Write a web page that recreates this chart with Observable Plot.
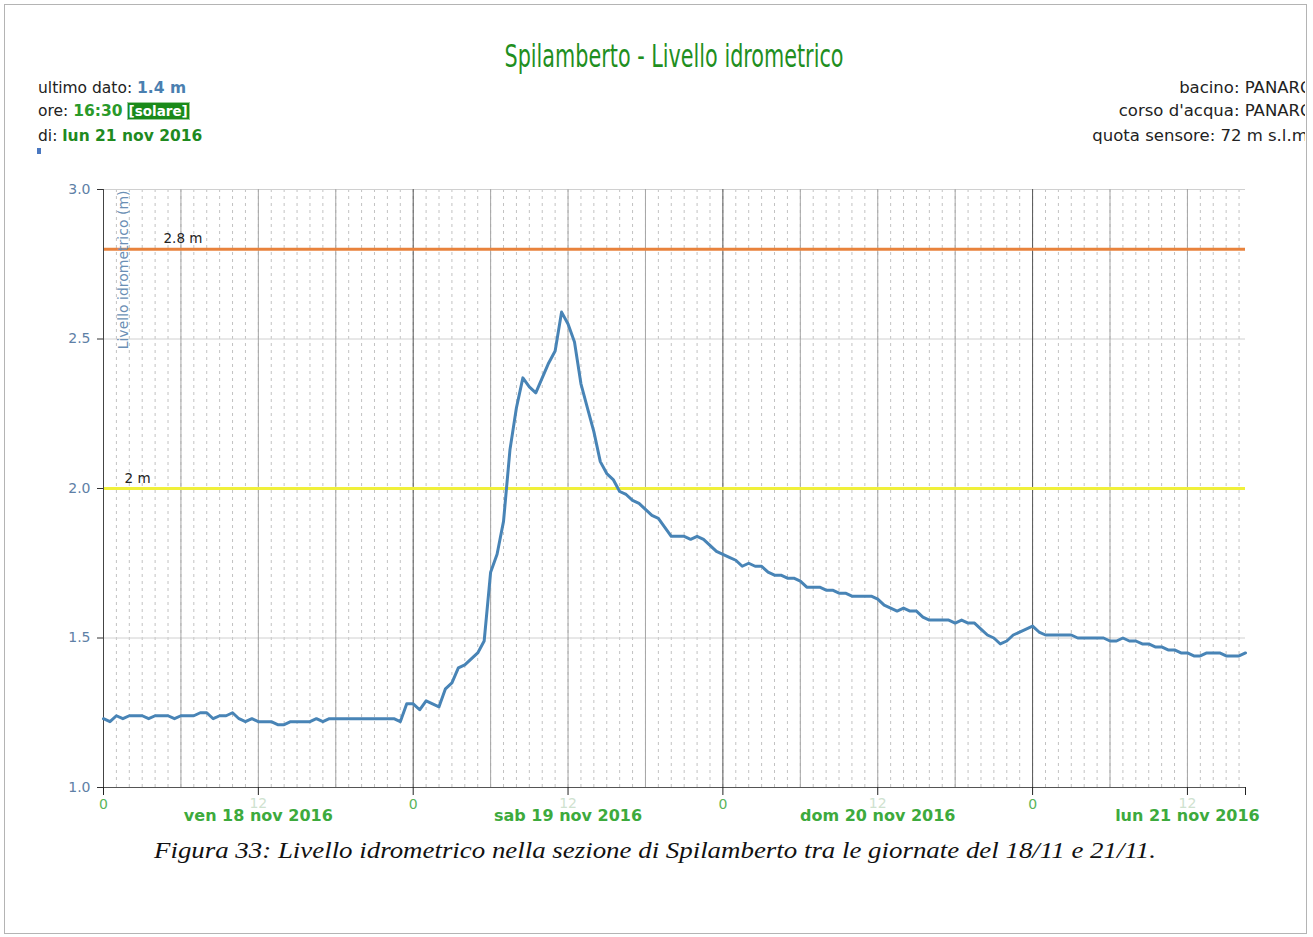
<!DOCTYPE html>
<html>
<head>
<meta charset="utf-8">
<script src="https://cdn.jsdelivr.net/npm/d3@7"></script>
<script src="https://cdn.jsdelivr.net/npm/@observablehq/plot@0.6"></script>
<style>
  html, body { margin: 0; padding: 0; background: #fff; }
  #frame { position: relative; width: 1313px; height: 937px; overflow: hidden; font-family: "DejaVu Sans", "Liberation Sans", sans-serif; }
  #box { position: absolute; left: 4px; top: 4px; width: 1301px; height: 928px; border: 1px solid #b4b4b4; }
  #title { position: absolute; left: 673.5px; top: 40px; font-family: "Liberation Sans Narrow", "DejaVu Sans Condensed", "Liberation Sans", sans-serif; font-size: 32px; line-height: 32px; color: #1f8f1f; white-space: nowrap; transform-origin: center; }
  .hl { position: absolute; left: 38px; font-size: 15.5px; line-height: 18px; color: #222; white-space: nowrap; }
  .hl b.blue { color: #4a7fb0; }
  .hl b.green { color: #2a9a2a; }
  .hl b.dgreen { color: #1f8a1f; }
  .sol { display: inline-block; background: #1a8a1a; color: #fff; font-weight: bold; font-size: 13.5px; line-height: 16px; padding: 0 1px; margin-left: 4px; border: 1px solid #9c9; }
  #hright { position: absolute; left: 880px; top: 70px; width: 425px; height: 80px; overflow: hidden; }
  .hr { position: absolute; right: -8px; font-size: 16.5px; line-height: 18px; color: #222; white-space: nowrap; }
  #mark { position: absolute; left: 37px; top: 148px; width: 4px; height: 6px; background: #4a78c0; }
  #chart { position: absolute; left: 0; top: 170px; }
  #caption { position: absolute; left: 655px; top: 836px; font-family: "Liberation Serif", "DejaVu Serif", serif; font-style: italic; font-size: 24px; line-height: 28px; color: #111; white-space: nowrap; transform-origin: center; }
</style>
</head>
<body>
<div id="frame">
  <div id="box"></div>
  <div id="title">Spilamberto - Livello idrometrico</div>
  <div class="hl" style="top:79px">ultimo dato: <b class="blue">1.4 m</b></div>
  <div class="hl" style="top:102px">ore: <b class="green">16:30</b><span class="sol">[solare]</span></div>
  <div class="hl" style="top:127px">di: <b class="dgreen">lun 21 nov 2016</b></div>
  <div id="mark"></div>
  <div id="hright">
    <div class="hr" style="top:9px">bacino: PANARO</div>
    <div class="hr" style="top:32px">corso d'acqua: PANARO</div>
    <div class="hr" style="top:57px">quota sensore: 72 m s.l.m.</div>
  </div>
  <div id="chart"></div>
  <div id="caption">Figura 33: Livello idrometrico nella sezione di Spilamberto tra le giornate del 18/11 e 21/11.</div>
</div>
<script>
// ---- data (half-hourly readings, metres) ----
const startTime = "2016-11-18T00:00:00Z";
const endTime = "2016-11-21T16:30:00Z";
const stepMinutes = 30;
const levels = [
  1.23,1.22,1.24,1.23,1.24,1.24,1.24,1.23,1.24,1.24,
  1.24,1.23,1.24,1.24,1.24,1.25,1.25,1.23,1.24,1.24,
  1.25,1.23,1.22,1.23,1.22,1.22,1.22,1.21,1.21,1.22,
  1.22,1.22,1.22,1.23,1.22,1.23,1.23,1.23,1.23,1.23,
  1.23,1.23,1.23,1.23,1.23,1.23,1.22,
  1.28,1.28,1.26,1.29,1.28,1.27,1.33,1.35,1.40,1.41,
  1.43,1.45,1.49,1.72,1.78,1.89,2.13,2.27,2.37,2.34,
  2.32,2.37,2.42,2.46,2.59,2.55,2.49,2.35,2.27,2.19,
  2.09,2.05,2.03,1.99,1.98,1.96,1.95,1.93,1.91,1.90,
  1.87,1.84,1.84,1.84,1.83,1.84,1.83,1.81,1.79,1.78,
  1.77,1.76,1.74,1.75,1.74,1.74,1.72,1.71,1.71,1.70,
  1.70,1.69,1.67,1.67,1.67,1.66,1.66,1.65,1.65,1.64,
  1.64,1.64,1.64,1.63,1.61,1.60,1.59,1.60,1.59,1.59,
  1.57,1.56,1.56,1.56,1.56,1.55,1.56,1.55,1.55,1.53,
  1.51,1.50,1.48,1.49,1.51,1.52,1.53,1.54,1.52,1.51,
  1.51,1.51,1.51,1.51,1.50,1.50,1.50,1.50,1.50,1.49,
  1.49,1.50,1.49,1.49,1.48,1.48,1.47,1.47,1.46,1.46,
  1.45,1.45,1.44,1.44,1.45,1.45,1.45,1.44,1.44,1.44,1.45
];
const dayLabels = ["ven 18 nov 2016", "sab 19 nov 2016", "dom 20 nov 2016", "lun 21 nov 2016"];
const dayNoons = ["2016-11-18T12:00:00Z", "2016-11-19T12:00:00Z", "2016-11-20T12:00:00Z", "2016-11-21T12:00:00Z"];
const midnightTickLabel = "0";
const noonTickLabel = "12";
const yTicks = [1.0, 1.5, 2.0, 2.5, 3.0];
const thresholdValues = [2.8, 2.0];
const thresholdLabels = ["2.8 m", "2 m"];
const yAxisLabel = "Livello idrometrico (m)";

// ---- build table ----
const t0 = new Date(startTime), t1 = new Date(endTime);
const series = levels.map((v, i) => ({t: new Date(+t0 + i * stepMinutes * 60000), v}));
const hours = d3.utcHour.range(t0, t1);
const midnights = d3.utcDay.range(t0, t1);
const sixHours = d3.utcHour.every(6).range(t0, t1).filter(d => d.getUTCHours() !== 0);
const noons = dayNoons.map(d => new Date(d));
const tickDates = d3.utcHour.every(12).range(t0, t1).concat([t1]);
const dayTable = dayLabels.map((label, i) => ({t: noons[i], label}));

const chart = Plot.plot({
  width: 1313,
  height: 680,
  marginTop: 19,
  marginBottom: 63,
  marginLeft: 103,
  marginRight: 68,
  x: {type: "utc", domain: [t0, t1]},
  y: {domain: [1, 3]},
  style: {fontFamily: "DejaVu Sans, Liberation Sans, sans-serif", background: "transparent", overflow: "visible"},
  marks: [
    Plot.ruleX(hours.slice(1), {stroke: "#c2c2c2", strokeDasharray: "3,4"}),
    Plot.ruleY(yTicks.slice(1), {stroke: "#d0d0d0"}),
    Plot.ruleX(sixHours, {stroke: "#a6a6a6"}),
    Plot.ruleX(midnights.slice(1), {stroke: "#555"}),
    Plot.ruleY([thresholdValues[0]], {stroke: "#e8823c", strokeWidth: 3}),
    Plot.ruleY([thresholdValues[1]], {stroke: "#f0f03a", strokeWidth: 3}),
    Plot.text([thresholdLabels[0]], {y: () => thresholdValues[0], text: d => d, frameAnchor: "left", textAnchor: "start", dx: 60, dy: -11, fontSize: 13.5, fill: "#222"}),
    Plot.text([thresholdLabels[1]], {y: () => thresholdValues[1], text: d => d, frameAnchor: "left", textAnchor: "start", dx: 21, dy: -10, fontSize: 13.5, fill: "#222"}),
    Plot.ruleX([t0], {stroke: "#444"}),
    Plot.ruleY([1], {stroke: "#555"}),
    Plot.line(series, {x: "t", y: "v", stroke: "#4884b6", strokeWidth: 3, strokeLinejoin: "round"}),
    Plot.text([yAxisLabel], {frameAnchor: "top-left", rotate: -90, textAnchor: "end", dx: 15, dy: 1, fontSize: 14, fill: "#6b8fb5"}),
    Plot.axisY(yTicks, {tickFormat: () => "", tickSize: 6, stroke: "#333", label: null}),
    Plot.text(yTicks, {y: d => d, text: d => d.toFixed(1), frameAnchor: "left", textAnchor: "end", dx: -13, fontSize: 14, fill: "#5e80a6"}),
    Plot.axisX(tickDates, {tickSize: 8, tickFormat: () => "", stroke: "#222", label: null}),
    Plot.text(midnights, {x: d => d, text: () => midnightTickLabel, frameAnchor: "bottom", dy: 21, fontSize: 14, fill: "#5ab55a"}),
    Plot.text(noons, {x: d => d, text: () => noonTickLabel, frameAnchor: "bottom", dy: 20, fontSize: 14, fill: "#cfe2cf"}),
    Plot.text(dayTable, {x: "t", text: "label", frameAnchor: "bottom", dy: 33, fontSize: 16, fontWeight: "bold", fill: "#3daa3d"})
  ]
});
document.getElementById("chart").appendChild(chart);

// fit the condensed title and the caption to their widths in the original
function fit(id, target) {
  const el = document.getElementById(id);
  const w = el.getBoundingClientRect().width;
  el.style.transform = `translateX(-50%) scaleX(${target / w})`;
}
fit("title", 339);
fit("caption", 1002);
</script>
</body>
</html>
